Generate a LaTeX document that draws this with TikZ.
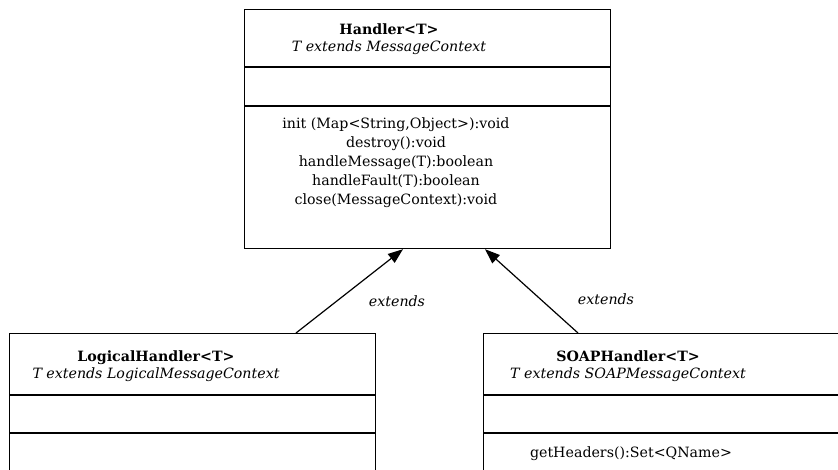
\documentclass[tikz,border=0pt]{standalone}
\usepackage{fontspec}
\setmainfont{DejaVu Serif}
\usetikzlibrary{arrows.meta}

\begin{document}
\begin{tikzpicture}[x=1pt, y=-1pt,
	classbox/.style={shape=rectangle, draw=black, line width=1.2pt, minimum width=366pt, anchor=north west, inner sep=0pt},
	classname/.style={align=center, inner sep=0pt, font=\fontsize{14.2}{17.5}\selectfont},
	members/.style={align=center, inner sep=0pt, font=\fontsize{14.2}{19}\selectfont},
	divider/.style={line width=1.2pt},
	extends/.style={-{Triangle[length=15pt,width=11pt]}, line width=1.2pt},
	relname/.style={inner sep=0pt, font=\fontsize{14.2}{15}\selectfont\itshape}]
	\useasboundingbox (0,0) rectangle (838,469);
	\clip (0,0) rectangle (838,469);

	\node[classbox, minimum height=239pt] (handler) at (244,9)   {};
	\node[classbox, minimum height=200pt] (logical) at (9,333)   {};
	\node[classbox, minimum height=200pt] (soap)    at (483,333) {};

	\draw[divider] ([yshift=-58pt]handler.north west) -- ([yshift=-58pt]handler.north east);
	\draw[divider] ([yshift=-97pt]handler.north west) -- ([yshift=-97pt]handler.north east);
	\draw[divider] ([yshift=-62pt]logical.north west) -- ([yshift=-62pt]logical.north east);
	\draw[divider] ([yshift=-100pt]logical.north west) -- ([yshift=-100pt]logical.north east);
	\draw[divider] ([yshift=-62pt]soap.north west) -- ([yshift=-62pt]soap.north east);
	\draw[divider] ([yshift=-100pt]soap.north west) -- ([yshift=-100pt]soap.north east);

	\node[classname] (handlerName) at (389,39)  {\textbf{Handler<T>}\\ \textit{T extends MessageContext}};
	\node[classname] (logicalName) at (156,366) {\textbf{LogicalHandler<T>}\\ \textit{T extends LogicalMessageContext}};
	\node[classname] (soapName)    at (628,366) {\textbf{SOAPHandler<T>}\\ \textit{T extends SOAPMessageContext}};

	\node[members] (handlerOps) at (396,163) {init (Map<String,Object>):void\\ destroy():void\\ handleMessage(T):boolean\\ handleFault(T):boolean\\ close(MessageContext):void};
	\node[members] (soapOps)    at (631,454) {getHeaders():Set<QName>};

	\path [extends] ([xshift=287pt]logical.north west) edge ([xshift=159pt]handler.south west);
	\path [extends] ([xshift=95pt]soap.north west)     edge ([xshift=241pt]handler.south west);

	\node[relname] (leftLabel)  at (397,301) {extends};
	\node[relname] (rightLabel) at (606,299) {extends};
\end{tikzpicture}
\end{document}
